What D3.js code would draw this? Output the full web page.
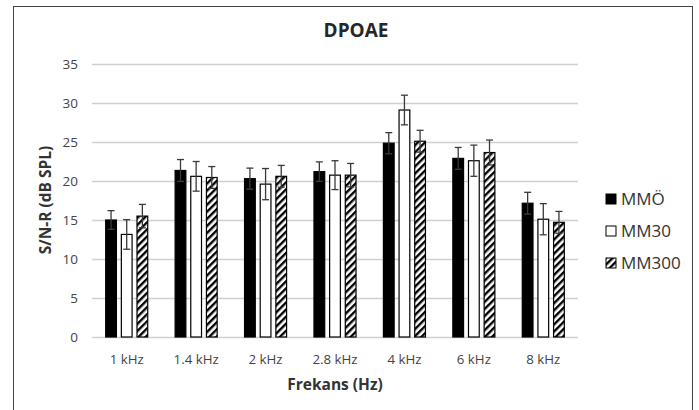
<!DOCTYPE html>
<html lang="en">
<head>
    <meta charset="UTF-8" />
    <script src="https://d3js.org/d3.v7.min.js"></script>
    <title>DPOAE</title>
    <style>
        body { margin: 0; background: #fff; }
        text { font-family: "Open Sans", sans-serif; }
    </style>
</head>
<body>
    <script>
        const width = 699,
            height = 410

        // data
        const categories = ['1 kHz', '1.4 kHz', '2 kHz', '2.8 kHz', '4 kHz', '6 kHz', '8 kHz']
        const seriesNames = ['MMÖ', 'MM30', 'MM300']
        const mmo = [15.0, 21.35, 20.3, 21.2, 24.85, 22.9, 17.15]
        const mm30 = [13.15, 20.6, 19.6, 20.75, 29.1, 22.6, 15.1]
        const mm300 = [15.5, 20.45, 20.6, 20.75, 25.1, 23.65, 14.7]
        const mmoErr = [1.2, 1.4, 1.35, 1.25, 1.35, 1.4, 1.4]
        const mm30Err = [1.9, 1.9, 2.0, 1.85, 1.9, 2.0, 2.0]
        const mm300Err = [1.5, 1.4, 1.4, 1.5, 1.4, 1.6, 1.4]
        const yTicks = [0, 5, 10, 15, 20, 25, 30, 35]

        const values = [mmo, mm30, mm300]
        const errors = [mmoErr, mm30Err, mm300Err]
        const fills = ['#000', '#fff', 'url(#hatch)']

        const svg = d3.select('body').append('svg').attr('width', width).attr('height', height)

        // hatch pattern
        const defs = svg.append('defs')
        const pat = defs.append('pattern').attr('id', 'hatch')
            .attr('patternUnits', 'userSpaceOnUse').attr('width', 5).attr('height', 5)
            .attr('patternTransform', 'rotate(45)')
        pat.append('rect').attr('width', 5).attr('height', 5).attr('fill', '#fff')
        pat.append('rect').attr('x', 0).attr('width', 2.4).attr('height', 5).attr('fill', '#000')

        // outer frame
        svg.append('rect').attr('x', 13.5).attr('y', 6.5).attr('width', 679).attr('height', 420)
            .attr('fill', 'none').attr('stroke', '#444').attr('stroke-width', 1)

        const margin = { left: 92, right: 121, top: 64, bottom: 73 }
        const x = d3.scaleBand().domain(categories).range([margin.left, width - margin.right]).paddingInner(0.38).paddingOuter(0.19)
        const xs = d3.scaleBand().domain(seriesNames).range([0, x.bandwidth()]).paddingInner(0.25)
        const y = d3.scaleLinear().domain([0, 35]).range([height - margin.bottom, margin.top])

        // grid lines
        svg.append('g').selectAll('line').data(yTicks).enter().append('line')
            .attr('x1', margin.left).attr('x2', width - margin.right)
            .attr('y1', d => Math.round(y(d)) + 0.5).attr('y2', d => Math.round(y(d)) + 0.5)
            .attr('stroke', '#cfcfcf').attr('stroke-width', 1.4)

        // y axis labels
        svg.append('g').selectAll('text').data(yTicks).enter().append('text')
            .attr('x', 78).attr('y', d => y(d)).attr('dy', '0.35em')
            .attr('text-anchor', 'end').attr('font-size', 13.5).attr('fill', '#444')
            .text(d => d)

        // x axis labels
        svg.append('g').selectAll('text').data(categories).enter().append('text')
            .attr('x', d => x(d) + x.bandwidth() / 2).attr('y', 359).attr('dy', '0.35em')
            .attr('text-anchor', 'middle').attr('font-size', 13.3).attr('fill', '#444')
            .text(d => d)

        // bars
        seriesNames.forEach((s, si) => {
            const g = svg.append('g')
            g.selectAll('rect').data(values[si]).enter().append('rect')
                .attr('x', (d, i) => x(categories[i]) + xs(s) + 0.5)
                .attr('y', d => y(d))
                .attr('width', xs.bandwidth() - 1)
                .attr('height', d => y(0) - y(d))
                .attr('fill', fills[si]).attr('stroke', '#000').attr('stroke-width', 1.2)

            // error bars
            const eg = svg.append('g').attr('stroke', '#3a3a3a').attr('stroke-width', 1.3)
            values[si].forEach((v, i) => {
                const cx = x(categories[i]) + xs(s) + xs.bandwidth() / 2
                const e = errors[si][i]
                eg.append('line').attr('x1', cx).attr('x2', cx).attr('y1', y(v + e)).attr('y2', y(v - e))
                eg.append('line').attr('x1', cx - 3.5).attr('x2', cx + 3.5).attr('y1', y(v + e)).attr('y2', y(v + e))
                eg.append('line').attr('x1', cx - 3.5).attr('x2', cx + 3.5).attr('y1', y(v - e)).attr('y2', y(v - e))
            })
        })

        // title and axis titles
        svg.append('text').attr('x', 356).attr('y', 30).attr('dy', '0.35em')
            .attr('text-anchor', 'middle').attr('font-size', 19).attr('font-weight', 'bold').attr('fill', '#262626')
            .text('DPOAE')
        svg.append('text').attr('x', 335).attr('y', 385).attr('dy', '0.35em')
            .attr('text-anchor', 'middle').attr('font-size', 15.5).attr('font-weight', 'bold').attr('fill', '#333')
            .text('Frekans (Hz)')
        svg.append('text').attr('transform', 'translate(46,200) rotate(-90)').attr('dy', '0.35em')
            .attr('text-anchor', 'middle').attr('font-size', 15.5).attr('font-weight', 'bold').attr('fill', '#333')
            .text('S/N-R (dB SPL)')

        // legend
        const lg = svg.append('g').selectAll('g').data(seriesNames).enter().append('g')
            .attr('transform', (d, i) => `translate(606,${199 + i * 32})`)
        lg.append('rect').attr('x', 0).attr('y', -5).attr('width', 10).attr('height', 10)
            .attr('fill', (d, i) => fills[i]).attr('stroke', '#000').attr('stroke-width', 1)
        lg.append('text').attr('x', 15).attr('dy', '0.35em').attr('font-size', 17).attr('fill', '#333')
            .text(d => d)
    </script>
</body>
</html>
